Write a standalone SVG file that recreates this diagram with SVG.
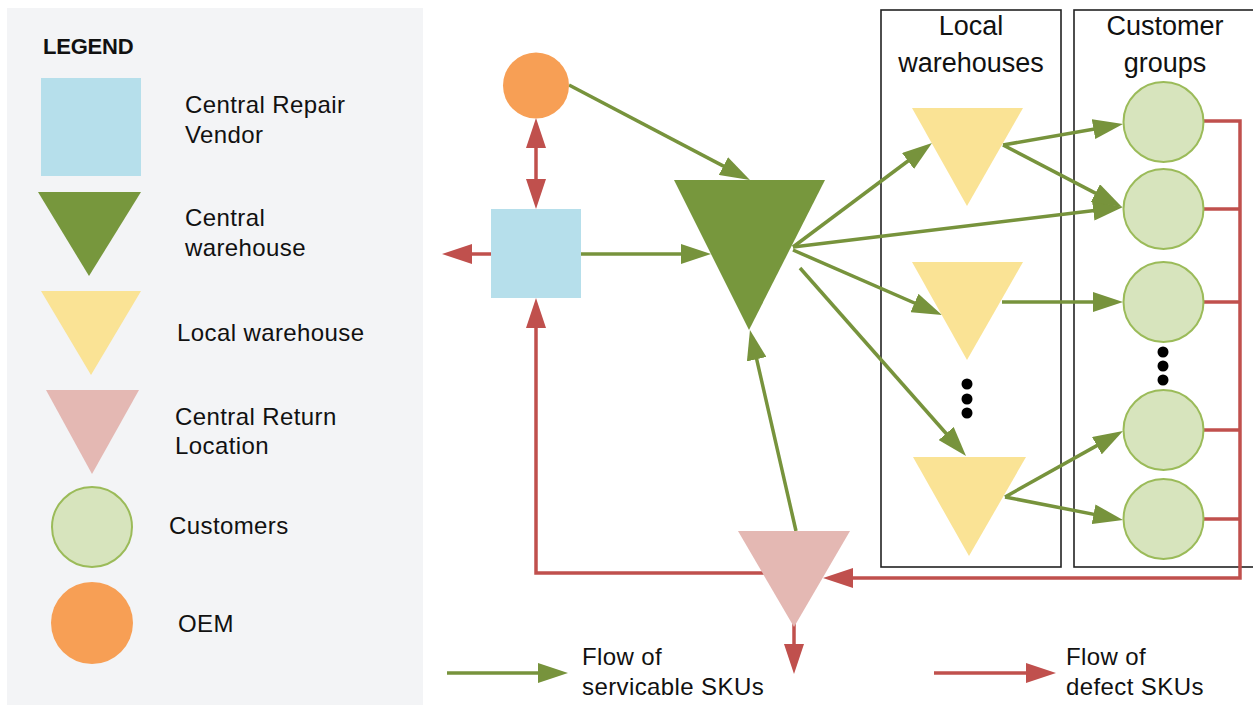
<svg xmlns="http://www.w3.org/2000/svg" width="1253" height="706" viewBox="0 0 1253 706">
<style>
.lt{font-family:"Liberation Sans",Arial,sans-serif;font-size:24px;fill:#111;letter-spacing:0.4px}
.hd{font-family:"Liberation Sans",Arial,sans-serif;font-size:27px;fill:#111;text-anchor:middle}
.g{stroke:#77933c;stroke-width:3.5;fill:none}
.r{stroke:#c0504d;stroke-width:3.5;fill:none}
.box{fill:none;stroke:#222;stroke-width:1.6}
.cust{fill:#d7e4bd;stroke:#9bbb59;stroke-width:2}
.dot{fill:#000}
</style>
<defs>
<marker id="ag" markerUnits="userSpaceOnUse" markerWidth="30" markerHeight="20" refX="20" refY="10" orient="auto"><path d="M0,0 L30,10 L0,20 z" fill="#77933c"/></marker>
<marker id="ar" markerUnits="userSpaceOnUse" markerWidth="30" markerHeight="20" refX="20" refY="10" orient="auto-start-reverse"><path d="M0,0 L30,10 L0,20 z" fill="#c0504d"/></marker>
</defs>
<rect width="1253" height="706" fill="#fff"/>

<g id="legend">
<rect x="7" y="8" width="416" height="697" fill="#f3f4f6"/>
<text x="43" y="54" style="font-family:'Liberation Sans',Arial,sans-serif;font-size:22px;font-weight:bold;letter-spacing:-0.2px" fill="#111">LEGEND</text>
<rect x="41" y="78" width="100" height="98" fill="#b6dfeb"/>
<text class="lt" x="185" y="113">Central Repair</text>
<text class="lt" x="185" y="143">Vendor</text>
<polygon points="38,192 141,192 89,276" fill="#77973d"/>
<text class="lt" x="185" y="226">Central</text>
<text class="lt" x="185" y="256">warehouse</text>
<polygon points="41,291 141,291 91,375" fill="#fae395"/>
<text class="lt" x="177" y="341">Local warehouse</text>
<polygon points="46,390 139,390 92,474" fill="#e4b8b3"/>
<text class="lt" x="175" y="425">Central Return</text>
<text class="lt" x="175" y="454">Location</text>
<circle class="cust" cx="92" cy="527" r="40"/>
<text class="lt" x="169" y="534">Customers</text>
<circle cx="92" cy="623" r="41" fill="#f79f55"/>
<text class="lt" x="178" y="632">OEM</text>
</g>

<g id="local-warehouses-box">
<rect class="box" x="881" y="10" width="180" height="557"/>
<text class="hd" x="971" y="35">Local</text>
<text class="hd" x="971" y="72">warehouses</text>
</g>
<g id="customer-groups-box">
<rect class="box" x="1074" y="10" width="190" height="557"/>
<text class="hd" x="1165" y="35">Customer</text>
<text class="hd" x="1165" y="72">groups</text>
</g>

<g id="connectors">
<line class="g" x1="569" y1="85" x2="741.1" y2="175.4" marker-end="url(#ag)"/>
<line class="g" x1="579" y1="254" x2="701" y2="254" marker-end="url(#ag)"/>
<line class="g" x1="796" y1="531" x2="752.2" y2="339.7" marker-end="url(#ag)"/>
<line class="g" x1="793" y1="247" x2="924" y2="149" marker-end="url(#ag)"/>
<line class="g" x1="793" y1="247" x2="1113.1" y2="208.2" marker-end="url(#ag)"/>
<line class="g" x1="793" y1="250" x2="932.8" y2="311" marker-end="url(#ag)"/>
<line class="g" x1="800" y1="268" x2="959.4" y2="448.5" marker-end="url(#ag)"/>
<line class="g" x1="1003" y1="145" x2="1113.2" y2="125.7" marker-end="url(#ag)"/>
<line class="g" x1="1003" y1="145" x2="1113.1" y2="202.4" marker-end="url(#ag)"/>
<line class="g" x1="1002" y1="302" x2="1113" y2="302" marker-end="url(#ag)"/>
<line class="g" x1="1005" y1="497" x2="1114.3" y2="435.9" marker-end="url(#ag)"/>
<line class="g" x1="1005" y1="497" x2="1113.2" y2="518.1" marker-end="url(#ag)"/>

<line class="r" x1="536" y1="128" x2="536" y2="199" marker-start="url(#ar)" marker-end="url(#ar)"/>
<line class="r" x1="491" y1="254" x2="452" y2="254" marker-end="url(#ar)"/>
<path class="r" d="M765,573 H536 V308" marker-end="url(#ar)"/>
<path class="r" d="M1204,121 H1240 V578 H833" marker-end="url(#ar)"/>
<line class="r" x1="1204" y1="209" x2="1240" y2="209"/>
<line class="r" x1="1204" y1="302" x2="1240" y2="302"/>
<line class="r" x1="1204" y1="430" x2="1240" y2="430"/>
<line class="r" x1="1204" y1="519" x2="1240" y2="519"/>
<line class="r" x1="794" y1="620" x2="794" y2="664" marker-end="url(#ar)"/>
</g>

<g id="oem"><circle cx="536" cy="85.5" r="33" fill="#f79f55"/></g>
<g id="central-repair-vendor"><rect x="491" y="209" width="90" height="89" fill="#b6dfeb"/></g>
<g id="central-warehouse"><polygon points="674,180 825,180 749,330" fill="#77973d"/></g>
<g id="central-return-location"><polygon points="738,531 850,531 794,627" fill="#e4b8b3"/></g>
<g id="local-warehouse-1"><polygon points="912,108 1023,108 967,206" fill="#fae395"/></g>
<g id="local-warehouse-2"><polygon points="912,262 1023,262 967,360" fill="#fae395"/></g>
<g id="local-warehouse-3"><polygon points="913,457 1026,457 969,556" fill="#fae395"/></g>
<g id="lw-dots"><circle class="dot" cx="967" cy="384" r="5.5"/><circle class="dot" cx="967" cy="399" r="5.5"/><circle class="dot" cx="967" cy="413" r="5.5"/></g>
<g id="customer-1"><circle class="cust" cx="1163.5" cy="122" r="40"/></g>
<g id="customer-2"><circle class="cust" cx="1163.5" cy="209" r="40"/></g>
<g id="customer-3"><circle class="cust" cx="1163.5" cy="302" r="40"/></g>
<g id="cg-dots"><circle class="dot" cx="1163" cy="352" r="5.5"/><circle class="dot" cx="1163" cy="366" r="5.5"/><circle class="dot" cx="1163" cy="380" r="5.5"/></g>
<g id="customer-4"><circle class="cust" cx="1163.5" cy="430" r="40"/></g>
<g id="customer-5"><circle class="cust" cx="1163.5" cy="519" r="40"/></g>

<g id="flow-legend">
<line class="g" x1="447" y1="673" x2="558" y2="673" marker-end="url(#ag)"/>
<text class="lt" x="582" y="665">Flow of</text>
<text class="lt" x="582" y="695">servicable SKUs</text>
<line class="r" x1="934" y1="673" x2="1046" y2="673" marker-end="url(#ar)"/>
<text class="lt" x="1066" y="665">Flow of</text>
<text class="lt" x="1066" y="695">defect SKUs</text>
</g>
</svg>
